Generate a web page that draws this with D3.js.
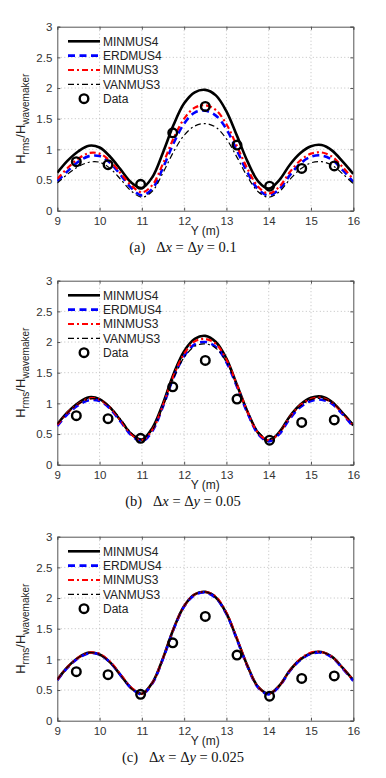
<!DOCTYPE html>
<html><head><meta charset="utf-8">
<script src="https://cdn.jsdelivr.net/npm/d3@7"></script>
<style>body{margin:0;background:#fff}svg{display:block}</style>
</head><body>
<script>
const yPos = [9,9.25,9.5,9.75,10,10.25,10.5,10.75,11,11.25,11.5,11.75,12,12.25,12.5,12.75,13,13.25,13.5,13.75,14,14.25,14.5,14.75,15,15.25,15.5,15.75,16];
const seriesNames = ["MINMUS4","ERDMUS4","MINMUS3","VANMUS3"];
// Panel (a) dx=dy=0.1
const a_MINMUS4 = [0.62,0.82,0.97,1.06,1.03,0.88,0.67,0.46,0.37,0.55,0.95,1.40,1.75,1.93,1.97,1.88,1.62,1.22,0.80,0.48,0.36,0.50,0.75,0.94,1.05,1.07,0.98,0.80,0.60];
const a_ERDMUS4 = [0.48,0.65,0.80,0.89,0.89,0.78,0.58,0.37,0.25,0.36,0.70,1.10,1.42,1.60,1.63,1.55,1.33,0.98,0.62,0.35,0.25,0.35,0.58,0.77,0.88,0.90,0.83,0.66,0.47];
const a_MINMUS3 = [0.52,0.70,0.85,0.94,0.93,0.81,0.61,0.41,0.30,0.42,0.77,1.18,1.50,1.68,1.72,1.64,1.41,1.05,0.68,0.39,0.28,0.39,0.63,0.82,0.93,0.95,0.88,0.71,0.51];
const a_VANMUS3 = [0.45,0.60,0.72,0.79,0.79,0.69,0.51,0.32,0.22,0.32,0.62,0.96,1.23,1.38,1.42,1.36,1.17,0.87,0.55,0.31,0.22,0.31,0.51,0.68,0.78,0.80,0.74,0.60,0.44];
// Panel (b) dx=dy=0.05
const b_MINMUS4 = [0.66,0.86,1.01,1.10,1.07,0.93,0.72,0.50,0.41,0.60,1.00,1.48,1.85,2.05,2.10,2.00,1.73,1.30,0.86,0.52,0.39,0.53,0.79,0.98,1.09,1.11,1.02,0.84,0.64];
const b_ERDMUS4 = [0.63,0.83,0.97,1.05,1.04,0.91,0.70,0.48,0.38,0.55,0.95,1.42,1.77,1.96,2.00,1.92,1.67,1.27,0.84,0.50,0.38,0.50,0.75,0.94,1.04,1.06,0.99,0.82,0.62];
const b_MINMUS3 = [0.65,0.85,0.99,1.08,1.06,0.93,0.72,0.50,0.40,0.57,0.97,1.45,1.81,2.01,2.05,1.97,1.71,1.30,0.86,0.52,0.40,0.52,0.78,0.97,1.07,1.09,1.01,0.84,0.64];
const b_VANMUS3 = [0.66,0.85,0.99,1.07,1.06,0.94,0.74,0.52,0.42,0.57,0.95,1.41,1.75,1.93,1.97,1.90,1.67,1.29,0.87,0.54,0.42,0.53,0.78,0.96,1.06,1.08,1.01,0.85,0.66];
// Panel (c) dx=dy=0.025
const c_MINMUS4 = [0.67,0.88,1.03,1.11,1.08,0.95,0.74,0.53,0.44,0.62,1.02,1.50,1.87,2.06,2.10,2.01,1.75,1.33,0.89,0.55,0.44,0.57,0.82,1.00,1.10,1.12,1.04,0.86,0.66];
const c_ERDMUS4 = [0.66,0.87,1.02,1.10,1.08,0.95,0.74,0.53,0.43,0.61,1.01,1.49,1.86,2.05,2.09,2.00,1.74,1.32,0.88,0.54,0.43,0.56,0.81,0.99,1.09,1.11,1.03,0.85,0.65];
const c_MINMUS3 = [0.67,0.88,1.03,1.11,1.09,0.96,0.75,0.54,0.44,0.62,1.02,1.50,1.87,2.06,2.10,2.02,1.76,1.34,0.89,0.55,0.44,0.57,0.82,1.01,1.11,1.12,1.04,0.86,0.66];
const c_VANMUS3 = [0.67,0.88,1.03,1.11,1.08,0.95,0.74,0.53,0.44,0.62,1.02,1.50,1.87,2.06,2.10,2.01,1.75,1.33,0.89,0.55,0.44,0.57,0.82,1.00,1.10,1.12,1.04,0.86,0.66];
// Measured data
const dataY = [9.45,10.2,10.97,11.73,12.5,13.25,14.02,14.78,15.55];
const dataH = [0.80,0.75,0.43,1.27,1.70,1.07,0.40,0.69,0.73];
const xTicks = [9,10,11,12,13,14,15,16];
const yTicks = [0,0.5,1,1.5,2,2.5,3];
const yTickLabels = ["0","0.5","1","1.5","2","2.5","3"];
const captions = [["(a)","0.1"],["(b)","0.05"],["(c)","0.025"]];

const panels = [
  {top:26.7, series:[a_MINMUS4,a_ERDMUS4,a_MINMUS3,a_VANMUS3], cap:captions[0]},
  {top:280.7, series:[b_MINMUS4,b_ERDMUS4,b_MINMUS3,b_VANMUS3], cap:captions[1]},
  {top:536.7, series:[c_MINMUS4,c_ERDMUS4,c_MINMUS3,c_VANMUS3], cap:captions[2]}
];
const styles = [
  {color:"#000", w:2.6, dash:null},
  {color:"#0000ff", w:2.6, dash:"7,4.5"},
  {color:"#ff0000", w:2.2, dash:"6,3,2,3"},
  {color:"#000", w:1.2, dash:"6,3,2,3"}
];

const W=386, H=778;
const svg = d3.select("body").append("svg").attr("width",W).attr("height",H);
const L=57.3, R=353.3, PH=184;
const x = d3.scaleLinear().domain([9,16]).range([L,R]);

panels.forEach((p,pi)=>{
  const y = d3.scaleLinear().domain([0,3]).range([p.top+PH,p.top]);
  const g = svg.append("g");
  const clipId = "clip"+pi;
  svg.append("clipPath").attr("id",clipId).append("rect")
    .attr("x",L).attr("y",p.top).attr("width",R-L).attr("height",PH);
  // grid
  g.selectAll(".gx").data(xTicks.slice(1,-1)).join("line")
    .attr("x1",d=>x(d)).attr("x2",d=>x(d)).attr("y1",p.top).attr("y2",p.top+PH)
    .attr("stroke","#b0b0b0").attr("stroke-width",0.8).attr("stroke-dasharray","1,2.5");
  g.selectAll(".gy").data(yTicks.slice(1,-1)).join("line")
    .attr("y1",d=>y(d)).attr("y2",d=>y(d)).attr("x1",L).attr("x2",R)
    .attr("stroke","#b0b0b0").attr("stroke-width",0.8).attr("stroke-dasharray","1,2.5");
  // axes
  g.append("g").attr("transform",`translate(0,${p.top+PH})`)
    .call(d3.axisBottom(x).tickValues(xTicks).tickSize(-3).tickPadding(6).tickFormat(d3.format("d")));
  g.append("g").attr("transform",`translate(${L},0)`)
    .call(d3.axisLeft(y).tickValues(yTicks).tickSize(-3).tickPadding(5).tickFormat((d,i)=>yTickLabels[i]));
  g.append("g").attr("transform",`translate(0,${p.top})`)
    .call(d3.axisTop(x).tickValues(xTicks).tickSize(-3).tickFormat(""));
  g.append("g").attr("transform",`translate(${R},0)`)
    .call(d3.axisRight(y).tickValues(yTicks).tickSize(-3).tickFormat(""));
  g.selectAll(".domain").attr("stroke","#555").attr("stroke-width",1);
  g.selectAll(".tick line").attr("stroke","#555");
  g.selectAll(".tick text").attr("font-family","Liberation Sans, Arial, sans-serif")
    .attr("font-size",11.5).attr("fill","#333");
  // lines
  const line = d3.line().x((d,i)=>x(yPos[i])).y(d=>y(d)).curve(d3.curveCatmullRom.alpha(0.5));
  const lg = g.append("g").attr("clip-path",`url(#${clipId})`);
  p.series.forEach((s,si)=>{
    const st = styles[si];
    lg.append("path").datum(s).attr("d",line).attr("fill","none")
      .attr("stroke",st.color).attr("stroke-width",st.w)
      .attr("stroke-dasharray",st.dash);
  });
  // data
  g.selectAll(".pt").data(dataY).join("circle")
    .attr("cx",d=>x(d)).attr("cy",(d,i)=>y(dataH[i])).attr("r",4.3)
    .attr("fill","none").attr("stroke","#000").attr("stroke-width",2.4);
  // legend
  const lx0=68, lx1=100, ly0=p.top+14.6, ldy=14.35;
  seriesNames.forEach((n,si)=>{
    const st=styles[si];
    const yy = ly0+si*ldy;
    g.append("line").attr("x1",lx0).attr("x2",lx1).attr("y1",yy).attr("y2",yy)
      .attr("stroke",st.color).attr("stroke-width",st.w).attr("stroke-dasharray",st.dash);
    g.append("text").attr("x",lx1+3).attr("y",yy+4.2).text(n)
      .attr("font-family","Liberation Sans, Arial, sans-serif").attr("font-size",12).attr("fill","#222");
  });
  const dy = ly0+4*ldy;
  g.append("circle").attr("cx",84).attr("cy",dy).attr("r",4.3).attr("fill","none")
    .attr("stroke","#000").attr("stroke-width",2.4);
  g.append("text").attr("x",lx1+3).attr("y",dy+4.2).text("Data")
    .attr("font-family","Liberation Sans, Arial, sans-serif").attr("font-size",12).attr("fill","#222");
  // x label
  g.append("text").attr("x",(L+R)/2).attr("y",p.top+PH+24.5).attr("text-anchor","middle")
    .attr("font-family","Liberation Sans, Arial, sans-serif").attr("font-size",12).attr("fill","#222")
    .text("Y (m)");
  // y label
  const yl = g.append("text").attr("transform",`translate(25,${p.top+PH/2}) rotate(-90)`)
    .attr("text-anchor","middle").attr("font-family","Liberation Sans, Arial, sans-serif")
    .attr("font-size",13).attr("fill","#222");
  yl.append("tspan").text("H");
  yl.append("tspan").attr("font-size",10).attr("dy",4).text("rms");
  yl.append("tspan").attr("dy",-4).text("/H");
  yl.append("tspan").attr("font-size",10).attr("dy",4).text("wavemaker");
  // caption
  const ct = g.append("text").attr("x",183).attr("y",p.top+PH+41.5).attr("text-anchor","middle")
    .attr("font-family","Liberation Serif, Times New Roman, serif").attr("font-size",14.5).attr("fill","#111");
  ct.append("tspan").text(p.cap[0]+"\u2002 \u0394");
  ct.append("tspan").attr("font-style","italic").text("x");
  ct.append("tspan").text(" = \u0394");
  ct.append("tspan").attr("font-style","italic").text("y");
  ct.append("tspan").text(" = "+p.cap[1]);
});
</script>
</body></html>
